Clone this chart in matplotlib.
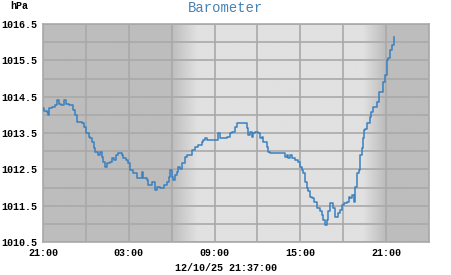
import datetime as dt

import matplotlib

matplotlib.use("Agg")
import matplotlib.dates as mdates
import matplotlib.pyplot as plt
import numpy as np

# hours after 21:00 on 12/09/25, and barometer readings (hPa)
hours = [
    0.00, 0.10, 0.26, 0.37, 0.45, 0.61, 0.85, 1.00, 1.10, 1.25, 1.40, 1.49, 1.60, 1.80,
    2.05, 2.12, 2.25, 2.40, 2.70, 2.87, 2.99, 3.20, 3.30, 3.41, 3.55, 3.64, 3.87, 3.99,
    4.10, 4.22, 4.34, 4.45, 4.70, 4.81, 4.95, 5.10, 5.27, 5.50, 5.62, 5.80, 5.97, 6.08,
    6.30, 6.56, 6.79, 6.91, 7.02, 7.25, 7.37, 7.60, 7.84, 7.95, 8.20, 8.43, 8.66, 8.78,
    8.89, 9.00, 9.12, 9.24, 9.35, 9.47, 9.58, 9.70, 9.90, 10.06, 10.29, 10.40, 10.64,
    10.87, 11.10, 11.22, 11.34, 11.45, 12.16, 12.27, 12.39, 12.62, 12.85, 13.08, 13.20,
    13.43, 13.55, 14.14, 14.26, 14.37, 14.49, 14.60, 14.72, 14.84, 15.07, 15.19, 15.30,
    15.42, 15.65, 15.77, 15.89, 16.82, 16.94, 17.05, 17.17, 17.28, 17.40, 17.63, 17.87,
    17.98, 18.10, 18.22, 18.33, 18.45, 18.57, 18.68, 18.80, 18.96, 19.15, 19.38, 19.50,
    19.62, 19.73, 19.85, 19.96, 20.08, 20.20, 20.31, 20.43, 20.55, 20.66, 20.78, 20.90,
    21.02, 21.25, 21.37, 21.49, 21.60, 21.72, 21.83, 21.95, 22.07, 22.18, 22.30, 22.37,
    22.42, 22.54, 22.65, 22.77, 22.88, 22.97, 23.05, 23.24, 23.35, 23.47, 23.70, 23.81,
    23.93, 24.05, 24.16, 24.28, 24.40, 24.51, 24.58,
]
pressure = [
    1014.18, 1014.10, 1014.09, 1014.00, 1014.18, 1014.22, 1014.27, 1014.40, 1014.30,
    1014.27, 1014.27, 1014.40, 1014.30, 1014.27, 1014.27, 1014.13, 1014.00, 1013.81,
    1013.77, 1013.67, 1013.49, 1013.40, 1013.35, 1013.26, 1013.08, 1012.99, 1012.89,
    1012.99, 1012.85, 1012.71, 1012.57, 1012.67, 1012.71, 1012.80, 1012.76, 1012.89,
    1012.94, 1012.89, 1012.80, 1012.76, 1012.67, 1012.48, 1012.39, 1012.25, 1012.25,
    1012.44, 1012.25, 1012.21, 1012.07, 1012.16, 1011.93, 1012.02, 1011.98, 1012.07,
    1012.16, 1012.30, 1012.48, 1012.30, 1012.21, 1012.35, 1012.44, 1012.57, 1012.52,
    1012.67, 1012.85, 1012.89, 1012.89, 1013.03, 1013.12, 1013.17, 1013.26, 1013.30,
    1013.35, 1013.30, 1013.30, 1013.49, 1013.35, 1013.35, 1013.40, 1013.49, 1013.54,
    1013.67, 1013.77, 1013.77, 1013.64, 1013.45, 1013.54, 1013.40, 1013.49, 1013.54,
    1013.49, 1013.35, 1013.40, 1013.26, 1013.12, 1012.99, 1012.94, 1012.94, 1012.85,
    1012.90, 1012.80, 1012.89, 1012.80, 1012.75, 1012.71, 1012.57, 1012.48, 1012.39,
    1012.16, 1011.98, 1011.90, 1011.75, 1011.70, 1011.61, 1011.43, 1011.34, 1011.25,
    1011.11, 1010.97, 1011.11, 1011.34, 1011.57, 1011.57, 1011.43, 1011.20, 1011.20,
    1011.29, 1011.38, 1011.52, 1011.57, 1011.61, 1011.75, 1011.70, 1011.80, 1011.61,
    1012.02, 1012.39, 1012.48, 1012.89, 1013.08, 1013.35, 1013.58, 1013.62, 1013.77,
    1013.77, 1013.95, 1014.09, 1014.22, 1014.22, 1014.36, 1014.64, 1014.64, 1014.91,
    1015.10, 1015.51, 1015.56, 1015.78, 1015.92, 1015.92, 1016.15,
]
y_ticks = [1010.5, 1011.5, 1012.5, 1013.5, 1014.5, 1015.5, 1016.5]

start = dt.datetime(2025, 12, 9, 21, 0)
end = dt.datetime(2025, 12, 11, 0, 0)
# daylight shading (hours after start): dark -> light ramp, light -> dark ramp
dawn = (9.0, 10.8)
dusk = (22.4, 23.95)

DARK = 0.74
LIGHT = 0.88
MONO = "Liberation Mono"
LINE_COLOR = "#3a80c0"
GRID_COLOR = "#a9a9a9"

times = [start + dt.timedelta(hours=h) for h in hours]

fig = plt.figure(figsize=(4.51, 2.75), dpi=100)
ax = fig.add_axes([43 / 451, 1 - 242 / 275, (429 - 43) / 451, (242 - 24) / 275])

# background: night/day gradient
span_h = (end - start).total_seconds() / 3600
xs = np.linspace(0, span_h, 800)
shade = np.interp(xs, [0, dawn[0], dawn[1], dusk[0], dusk[1], span_h],
                  [DARK, DARK, LIGHT, LIGHT, DARK, DARK])
ax.imshow(
    np.tile(shade, (2, 1)),
    cmap="gray", vmin=0, vmax=1, aspect="auto", interpolation="bilinear",
    extent=[mdates.date2num(start), mdates.date2num(end), 1010.5, 1016.5],
    zorder=0,
)

ax.plot(times, pressure, color=LINE_COLOR, linewidth=1.1, zorder=3,
        drawstyle="steps-post")

ax.set_xlim(start, end)
ax.set_ylim(1010.5, 1016.5)
ax.xaxis.set_major_locator(mdates.HourLocator(byhour=[3, 9, 15, 21]))
ax.xaxis.set_major_formatter(mdates.DateFormatter("%H:%M"))
ax.xaxis.set_minor_locator(mdates.HourLocator(interval=3))
ax.set_yticks(y_ticks)
ax.set_yticks(np.arange(1010.5, 1016.6, 0.5), minor=True)
ax.yaxis.set_major_formatter(plt.FuncFormatter(lambda v, p: f"{v:.1f}"))

ax.grid(which="both", color=GRID_COLOR, linewidth=1.2, zorder=1)
ax.set_axisbelow(False)
for line in ax.get_xgridlines() + ax.get_ygridlines():
    line.set_zorder(1)
ax.tick_params(which="both", length=0, pad=4, labelsize=7.2)
for lab in ax.get_xticklabels() + ax.get_yticklabels():
    lab.set_fontfamily(MONO)
    lab.set_fontweight("bold")
for sp in ax.spines.values():
    sp.set_color(GRID_COLOR)
    sp.set_linewidth(1.2)

fig.text(0.5, 1 - 8 / 275, "Barometer", ha="center", va="center",
         color="#4682b4", fontsize=10, family=MONO)
fig.text(10 / 451, 1 - 6 / 275, "hPa", ha="left", va="center",
         fontsize=7.2, family=MONO, fontweight="bold")
fig.text(226 / 451, 1 - 268 / 275, "12/10/25 21:37:00", ha="center", va="center",
         fontsize=7.2, family=MONO, fontweight="bold")

fig.savefig("out.png", dpi=100)
